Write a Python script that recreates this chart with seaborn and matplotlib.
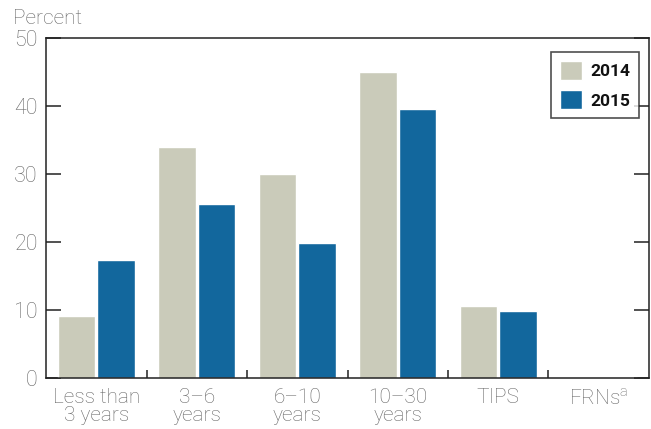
import matplotlib
matplotlib.use("Agg")
import matplotlib.pyplot as plt
import pandas as pd
import seaborn as sns

categories = ["Less than\n3 years", "3\u20136\nyears", "6\u201310\nyears",
              "10\u201330\nyears", "TIPS", r"FRNs$^\mathregular{a}$"]
share_2014 = [9.1, 34.0, 30.0, 45.0, 10.6, 0.0]
share_2015 = [17.4, 25.6, 19.9, 39.6, 9.9, 0.0]
years = ["2014", "2015"]
colors = ["#cacbba", "#12679d"]

sns.set_theme(style="white")
plt.rcParams["font.family"] = ["Roboto", "DejaVu Sans"]
plt.rcParams["mathtext.fontset"] = "custom"
plt.rcParams["mathtext.rm"] = "Roboto:light"

df = pd.DataFrame({
    "cat": categories * 2,
    "year": [years[0]] * len(categories) + [years[1]] * len(categories),
    "val": share_2014 + share_2015,
})

fig = plt.figure(figsize=(6.51, 4.29), dpi=100)
ax = fig.add_axes([0.0707, 0.119, 0.9262, 0.7925])

sns.barplot(data=df, x="cat", y="val", hue="year", palette=colors,
            width=0.79, gap=0.05, saturation=1, ax=ax, legend=True)

ax.set_ylim(0, 50)
ax.set_xlim(-0.5, len(categories) - 0.5)
ax.set_xlabel("")
ax.set_ylabel("")
ax.set_yticks([0, 10, 20, 30, 40, 50])

for s in ax.spines.values():
    s.set_color("#222222")
    s.set_linewidth(1.1)

ax.tick_params(axis="y", which="major", direction="in", length=11, width=1.1,
               color="#222222", left=True, right=True, labelsize=15.5,
               labelcolor="#666666", pad=6)
ax.tick_params(axis="x", which="major", length=0, labelsize=15,
               labelcolor="#666666", pad=7)
ax.set_xticks([i + 0.5 for i in range(len(categories) - 1)], minor=True)
ax.tick_params(axis="x", which="minor", direction="in", length=6, width=1.1,
               color="#222222", bottom=True)
for lab in ax.get_xticklabels() + ax.get_yticklabels():
    lab.set_fontweight("light")
    lab.set_linespacing(0.98)

leg = ax.legend(loc="upper right", bbox_to_anchor=(0.983, 0.958),
                borderaxespad=0, fancybox=False, frameon=True,
                handlelength=1.3, handleheight=1.35, handletextpad=0.45,
                labelspacing=0.55, borderpad=0.5, fontsize=12.5)
leg.get_frame().set_edgecolor("#222222")
leg.get_frame().set_linewidth(1.2)
for t in leg.get_texts():
    t.set_fontweight("bold")
    t.set_color("#111111")

fig.text(13 / 651, 1 - 19 / 429, "Percent", fontsize=15, fontweight="light",
         color="#666666", va="center", ha="left")

fig.savefig("out.png", dpi=100)
